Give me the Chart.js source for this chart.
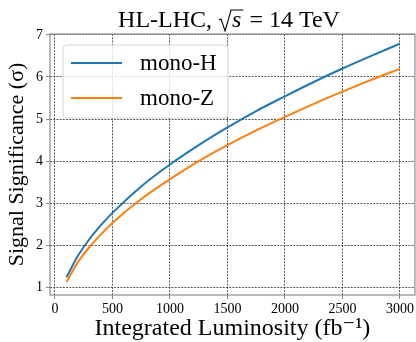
<!DOCTYPE html>
<html>
<head>
<meta charset="utf-8">
<script src="https://cdn.jsdelivr.net/npm/chart.js@4"></script>
<style>
  body { margin: 0; background: #fff; }
  #wrap { width: 416px; height: 342px; position: relative; }
</style>
</head>
<body>
<div id="wrap"><canvas id="chart"></canvas></div>
<script>
// luminosity points (fb^-1)
const lumi = [100, 200, 300, 400, 500, 750, 1000, 1250, 1500, 1750, 2000, 2250, 2500, 2750, 3000];
// signal significance, mono-H
const monoH = [1.24, 1.75, 2.15, 2.48, 2.77, 3.40, 3.92, 4.38, 4.80, 5.19, 5.54, 5.88, 6.20, 6.50, 6.79];
// signal significance, mono-Z
const monoZ = [1.13, 1.60, 1.96, 2.26, 2.53, 3.10, 3.57, 4.00, 4.38, 4.73, 5.05, 5.36, 5.65, 5.93, 6.19];
const seriesNames = ['mono-H', 'mono-Z'];
const xTicks = [0, 500, 1000, 1500, 2000, 2500, 3000];
const yTicks = [1, 2, 3, 4, 5, 6, 7];

const SERIF = "'Liberation Serif', 'DejaVu Serif', serif";
const colors = ['#1f77b4', '#ff7f0e'];

// 枠線（上下左右）
const framePlugin = {
    id: 'frame',
    afterDraw(chart) {
        const { ctx, chartArea: a } = chart;
        ctx.save();
        ctx.strokeStyle = '#8c8c8c';
        ctx.lineWidth = 1.2;
        ctx.strokeRect(a.left, a.top, a.right - a.left, a.bottom - a.top);
        ctx.restore();
    }
};

// タイトル: HL-LHC, √s = 14 TeV
const titlePlugin = {
    id: 'mathTitle',
    afterDraw(chart) {
        const { ctx } = chart;
        const base = 27;
        const normal = '24px ' + SERIF;
        const italic = 'italic 24px ' + SERIF;
        const left = 'HL-LHC, ';
        const right = ' = 14 TeV';
        ctx.save();
        ctx.font = normal;
        const wl = ctx.measureText(left).width;
        const wr = ctx.measureText(right).width;
        ctx.font = italic;
        const ws = ctx.measureText('s').width;
        const wRad = 14;
        const total = wl + wRad + ws + 2 + wr;
        let x = 229 - total / 2;
        ctx.fillStyle = '#000';
        ctx.textBaseline = 'alphabetic';
        ctx.font = normal;
        ctx.fillText(left, x, base);
        x += wl;
        // 根号
        ctx.strokeStyle = '#000';
        ctx.lineWidth = 1.1;
        ctx.beginPath();
        ctx.moveTo(x + 1, base - 7);
        ctx.lineTo(x + 3, base - 8);
        ctx.lineTo(x + 7, base + 4);
        ctx.lineTo(x + 13, base - 17);
        ctx.lineTo(x + wRad + ws + 2, base - 17);
        ctx.stroke();
        x += wRad;
        ctx.font = italic;
        ctx.fillText('s', x, base);
        x += ws + 2;
        ctx.font = normal;
        ctx.fillText(right, x, base);
        ctx.restore();
    }
};

// 凡例（プロット内の左上）
const legendPlugin = {
    id: 'boxLegend',
    afterDatasetsDraw(chart) {
        const { ctx } = chart;
        const bx = 63, by = 45, bw = 165, bh = 73, r = 4;
        ctx.save();
        ctx.beginPath();
        ctx.roundRect(bx, by, bw, bh, r);
        ctx.fillStyle = 'rgba(255,255,255,0.8)';
        ctx.fill();
        ctx.strokeStyle = '#d6d6d6';
        ctx.lineWidth = 1;
        ctx.stroke();
        chart.data.datasets.forEach((ds, i) => {
            const y = 63 + i * 35;
            ctx.strokeStyle = ds.borderColor;
            ctx.lineWidth = 2;
            ctx.beginPath();
            ctx.moveTo(71, y);
            ctx.lineTo(122, y);
            ctx.stroke();
            ctx.fillStyle = '#000';
            ctx.font = '23px ' + SERIF;
            ctx.textBaseline = 'middle';
            ctx.fillText(ds.label, 140, y + 1);
        });
        ctx.restore();
    }
};

const ctx = document.getElementById('chart').getContext('2d');
const gridOpts = {
    color: 'rgba(50,50,50,0.9)',
    lineWidth: 0.9,
    tickColor: '#8c8c8c',
    tickLength: 4,
    tickWidth: 1,
    tickBorderDash: []
};
// v4 ではグリッド線の破線は border.dash で指定
const borderOpts = { display: false, dash: [2, 1.2] };

new Chart(ctx, {
    type: 'line',
    data: {
        datasets: [monoH, monoZ].map((vals, i) => ({
            label: seriesNames[i],
            data: lumi.map((x, k) => ({ x: x, y: vals[k] })),
            borderColor: colors[i],
            borderWidth: 2,
            pointRadius: 0,
            cubicInterpolationMode: 'monotone',
            fill: false
        }))
    },
    options: {
        responsive: true,
        maintainAspectRatio: false,
        animation: false,
        layout: { padding: { top: 34, right: 1, left: 0, bottom: 0 } },
        plugins: { legend: { display: false }, tooltip: { enabled: false }, title: { display: false } },
        scales: {
            x: {
                type: 'linear',
                min: -43,
                max: 3130,
                afterBuildTicks: (s) => { s.ticks = xTicks.map(v => ({ value: v })); },
                afterFit: (s) => { s.height = 47; },
                grid: gridOpts,
                border: borderOpts,
                ticks: {
                    color: '#000', font: { family: SERIF, size: 14 }, padding: 2, maxRotation: 0,
                    callback: (v) => String(v)
                },
                title: {
                    display: true,
                    text: 'Integrated Luminosity (fb\u207B\u00B9)',
                    color: '#000',
                    font: { family: SERIF, size: 24, lineHeight: 1.1 },
                    padding: { top: 0, bottom: 0 }
                }
            },
            y: {
                type: 'linear',
                min: 0.82,
                max: 7.02,
                afterBuildTicks: (s) => { s.ticks = yTicks.map(v => ({ value: v })); },
                afterFit: (s) => { s.width = 50; },
                grid: gridOpts,
                border: borderOpts,
                ticks: { color: '#000', font: { family: SERIF, size: 14 }, padding: 3, callback: (v) => String(v) },
                title: {
                    display: true,
                    text: 'Signal Significance (\u03C3)',
                    color: '#000',
                    font: { family: SERIF, size: 22, lineHeight: 1.2 },
                    padding: { top: 4, bottom: 0 }
                }
            }
        }
    },
    plugins: [framePlugin, titlePlugin, legendPlugin]
});
</script>
</body>
</html>
